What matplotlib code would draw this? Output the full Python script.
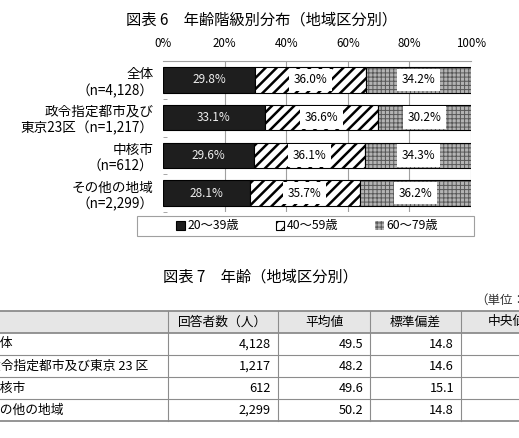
import matplotlib
matplotlib.use('Agg')
import matplotlib.pyplot as plt
import numpy as np
from matplotlib.patches import Rectangle

plt.rcParams['font.family'] = ['Noto Sans CJK JP', 'DejaVu Sans']

# chart data
chart_labels = ['全体\n（n=4,128）', '政令指定都市及び\n東京23区（n=1,217）',
                '中核市\n（n=612）', 'その他の地域\n（n=2,299）']
age_groups = ['20～39歳', '40～59歳', '60～79歳']
share_20_39 = [29.8, 33.1, 29.6, 28.1]
share_40_59 = [36.0, 36.6, 36.1, 35.7]
share_60_79 = [34.2, 30.2, 34.3, 36.2]
x_ticks = [0, 20, 40, 60, 80, 100]

# table data
table_header = ['', '回答者数（人）', '平均値', '標準偏差', '中央値']
table_rows = ['全体', '政令指定都市及び東京 23 区', '中核市', 'その他の地域']
counts = ['4,128', '1,217', '612', '2,299']
means = [49.5, 48.2, 49.6, 50.2]
sds = [14.8, 14.6, 15.1, 14.8]

W, H = 519, 438
fig = plt.figure(figsize=(W / 100, H / 100), dpi=100)


def fx(px):
    return px / W


def fy(py):
    return 1 - py / H


# background axes in pixel coords for table / frames
bg = fig.add_axes([0, 0, 1, 1])
bg.set_xlim(0, W)
bg.set_ylim(H, 0)
bg.axis('off')

fig.text(fx(262), fy(20), '図表 6　年齢階級別分布（地域区分別）',
         ha='center', va='center', fontsize=11)

ax = fig.add_axes([fx(163), fy(212), (471 - 163) / W, (212 - 61) / H])
y = np.arange(len(chart_labels))
bh = 0.68
a = np.array(share_20_39)
b = np.array(share_40_59)
c = np.array(share_60_79)

plt.rcParams['hatch.linewidth'] = 1.8
b1 = ax.barh(y, a, bh, color='#1e1e1e', edgecolor='black', lw=0.8)
b2 = ax.barh(y, b, bh, left=a, color='white', edgecolor='black', lw=0.8, hatch='///')
plt.rcParams['hatch.linewidth'] = 0.7
b3 = ax.barh(y, c, bh, left=a + b, color='#b4b4b4', edgecolor='#585858', lw=0, hatch='++++')
ax.barh(y, c, bh, left=a + b, fill=False, edgecolor='black', lw=0.8)
for p in b2:
    if hasattr(p, 'set_hatch_linewidth'):
        p.set_hatch_linewidth(1.8)
for p in b3:
    if hasattr(p, 'set_hatch_linewidth'):
        p.set_hatch_linewidth(0.7)

for i in range(len(y)):
    ax.text(a[i] / 2, i, f'{a[i]:.1f}%', color='#eeeeee', ha='center', va='center', fontsize=8.5)
    ax.text(a[i] + b[i] / 2, i, f'{b[i]:.1f}%', ha='center', va='center', fontsize=8.5,
            bbox=dict(boxstyle='square,pad=0.4', fc='white', ec='none'))
    ax.text(a[i] + b[i] + c[i] / 2, i, f'{c[i]:.1f}%', ha='center', va='center', fontsize=8.5,
            bbox=dict(boxstyle='square,pad=0.4', fc='white', ec='none'))

ax.set_xlim(0, 100)
ax.set_ylim(3.5, -0.5)
ax.xaxis.tick_top()
ax.set_xticks(x_ticks, [f'{t}%' for t in x_ticks])
ax.tick_params(axis='x', length=0, pad=8, labelsize=8.3)
ax.set_yticks(y, chart_labels, multialignment='right')
ax.tick_params(axis='y', length=0, pad=7, labelsize=9.8)
ax.set_yticks(np.arange(-0.5, 4, 1), minor=True)
ax.tick_params(axis='y', which='minor', length=3, direction='in', color='#999999')
ax.grid(axis='x', color='#a0a0a0', lw=0.8)
ax.get_xgridlines()[0].set_visible(False)
ax.set_axisbelow(True)
for s in ['left', 'right', 'bottom']:
    ax.spines[s].set_visible(False)
ax.spines['top'].set_color('#a0a0a0')
ax.spines['top'].set_linewidth(0.8)

fig.legend(handles=[b1, b2, b3], labels=age_groups, loc='center',
           bbox_to_anchor=(fx(307), fy(226)), ncol=3, frameon=False, fontsize=8.8,
           handlelength=0.7, handleheight=0.7, handletextpad=0.2, columnspacing=3.0)
bg.add_patch(Rectangle((137, 216), 337, 20, fill=False, edgecolor='#a0a0a0', lw=0.8))

# table
fig.text(fx(260), fy(277), '図表 7　年齢（地域区分別）', ha='center', va='center', fontsize=11)
fig.text(fx(475), fy(300), '（単位：歳）', ha='left', va='center', fontsize=9, color='#333333')

row_lines = [311, 333, 355, 377, 399, 421]
col_lines = [168, 278, 370, 461, 552]
bg.add_patch(Rectangle((-5, row_lines[0]), 600, row_lines[1] - row_lines[0],
                       facecolor='#e6e6e6', edgecolor='none'))
for k, yy in enumerate(row_lines):
    bg.plot([-5, 600], [yy, yy], color='#8c8c8c', lw=1.3 if k in (0, 1, 5) else 0.8,
            solid_capstyle='butt')
for xx in col_lines[:-1]:
    bg.plot([xx, xx], [row_lines[0], row_lines[-1]], color='#8c8c8c', lw=0.8)

col_left = [-12] + col_lines[:-1]
for j, h in enumerate(table_header):
    if h:
        cx = (col_left[j] + col_lines[j]) / 2
        bg.text(cx, (row_lines[0] + row_lines[1]) / 2, h, ha='center', va='center', fontsize=9.2)

for i, name in enumerate(table_rows):
    cy = (row_lines[i + 1] + row_lines[i + 2]) / 2
    bg.text(-12, cy, name, ha='left', va='center', fontsize=9.2)
    vals = [counts[i], f'{means[i]:.1f}', f'{sds[i]:.1f}']
    for j, v in enumerate(vals):
        bg.text(col_lines[j + 1] - 7, cy, v, ha='right', va='center', fontsize=9.2)

fig.savefig('out.png', dpi=100)
